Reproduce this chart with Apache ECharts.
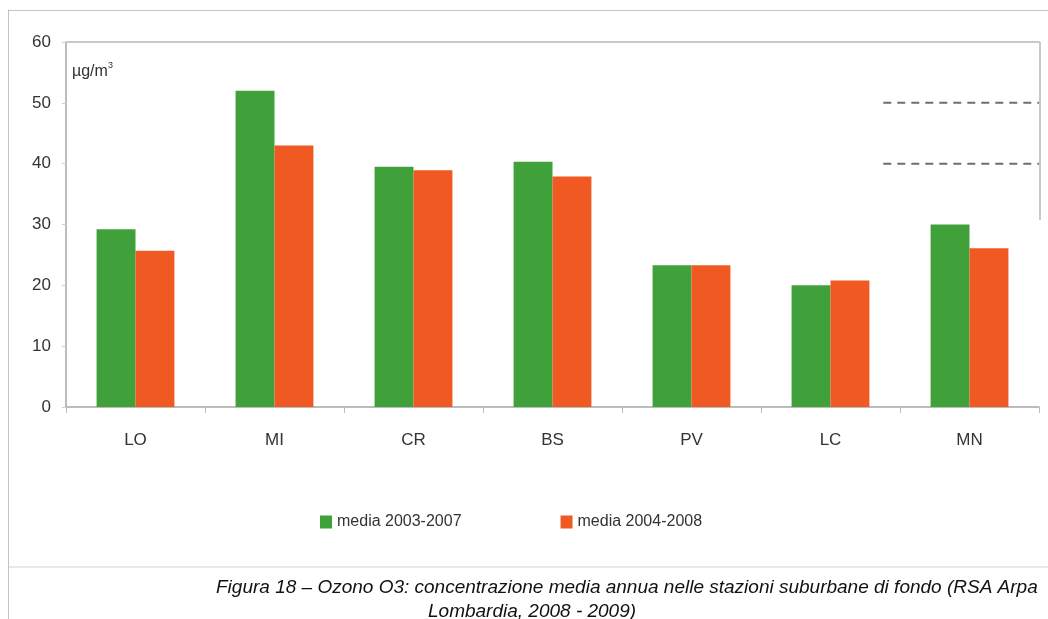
<!DOCTYPE html>
<html>
<head>
<meta charset="utf-8">
<script src="https://cdn.jsdelivr.net/npm/echarts@6/dist/echarts.min.js"></script>
<style>
  html, body { margin: 0; padding: 0; background: #fff; }
  #chart { width: 1048px; height: 619px; }
</style>
</head>
<body>
<div id="chart"></div>
<script>
// Stations (provinces) and the two multi-year ozone means, in µg/m³
const stations = ['LO', 'MI', 'CR', 'BS', 'PV', 'LC', 'MN'];
const mean2003_2007 = [29.2, 52.0, 39.5, 40.3, 23.3, 20.0, 30.0];
const mean2004_2008 = [25.7, 43.0, 38.9, 37.9, 23.3, 20.8, 26.1];
const seriesNames = ['media 2003-2007', 'media 2004-2008'];
// Short dashed reference levels drawn at the right end of the plot
const refLevels = [50, 40];
const refSpan = [5.88, 7];

const chart = echarts.init(document.getElementById('chart'), null, { renderer: 'canvas' });

const FONT = '"Liberation Sans", Arial, sans-serif';

const refSeries = refLevels.map(v => ({
  type: 'line',
  xAxisIndex: 1,
  data: refSpan.map(x => [x, v]),
  symbol: 'none',
  silent: true,
  lineStyle: { color: '#6f6f6f', width: 2, type: [8, 6] },
  z: 1
}));

chart.setOption({
  animation: false,
  backgroundColor: '#fff',
  textStyle: { fontFamily: FONT },
  grid: { left: 66, right: 9, top: 42, bottom: 212 },
  legend: {
    data: seriesNames,
    left: 315,
    top: 509,
    icon: 'rect',
    itemWidth: 12,
    itemHeight: 13,
    itemGap: 99,
    textStyle: { fontSize: 16, color: '#333', fontFamily: FONT }
  },
  xAxis: [
    {
      type: 'category',
      data: stations,
      axisLine: { lineStyle: { color: '#a6a6a6', width: 1.5 } },
      axisTick: { show: true, length: 6, lineStyle: { color: '#bdbdbd' } },
      axisLabel: { color: '#333', fontSize: 17, margin: 25, fontFamily: FONT }
    },
    {
      type: 'value',
      min: 0,
      max: 7,
      position: 'top',
      axisLine: { show: true, onZero: false, lineStyle: { color: '#c8c8c8', width: 2 } },
      axisTick: { show: false },
      axisLabel: { show: false },
      splitLine: { show: false }
    }
  ],
  yAxis: {
    type: 'value',
    min: 0,
    max: 60,
    interval: 10,
    axisLine: { show: true, lineStyle: { color: '#a6a6a6', width: 1.5 } },
    axisTick: { show: true, length: 4, lineStyle: { color: '#cfcfcf' } },
    axisLabel: { color: '#333', fontSize: 17, margin: 15, fontFamily: FONT },
    splitLine: { show: false }
  },
  series: [
    {
      name: seriesNames[0],
      type: 'bar',
      data: mean2003_2007,
      itemStyle: { color: '#40a03a' },
      barGap: '0%',
      barCategoryGap: '44%'
    },
    {
      name: seriesNames[1],
      type: 'bar',
      data: mean2004_2008,
      itemStyle: { color: '#f05a22' }
    },
    ...refSeries
  ],
  graphic: [
    // outer dotted frame
    { type: 'line', shape: { x1: 8.5, y1: 10.5, x2: 1048, y2: 10.5 }, style: { stroke: '#8a8a8a', lineWidth: 1, lineDash: [1, 1] } },
    { type: 'line', shape: { x1: 8.5, y1: 10.5, x2: 8.5, y2: 619 }, style: { stroke: '#8a8a8a', lineWidth: 1, lineDash: [1, 1] } },
    // right edge of the plot frame
    { type: 'line', shape: { x1: 1040, y1: 42, x2: 1040, y2: 220 }, style: { stroke: '#c8c8c8', lineWidth: 2 } },
    // separator above the caption
    { type: 'line', shape: { x1: 9, y1: 567, x2: 1048, y2: 567 }, style: { stroke: '#e0e0e0', lineWidth: 1.5 } },
    // unit label
    { type: 'text', left: 72, top: 64, style: { text: 'µg/m', fill: '#333', font: '16px ' + FONT } },
    { type: 'text', left: 108, top: 61, style: { text: '3', fill: '#333', font: '9px ' + FONT } },
    // caption
    { type: 'text', left: 216, top: 578, style: { text: 'Figura 18 – Ozono O3: concentrazione media annua nelle stazioni suburbane di fondo (RSA Arpa', fill: '#111', font: 'italic 19px ' + FONT } },
    { type: 'text', left: 428, top: 602, style: { text: 'Lombardia, 2008 - 2009)', fill: '#111', font: 'italic 19px ' + FONT } }
  ]
});
</script>
</body>
</html>
